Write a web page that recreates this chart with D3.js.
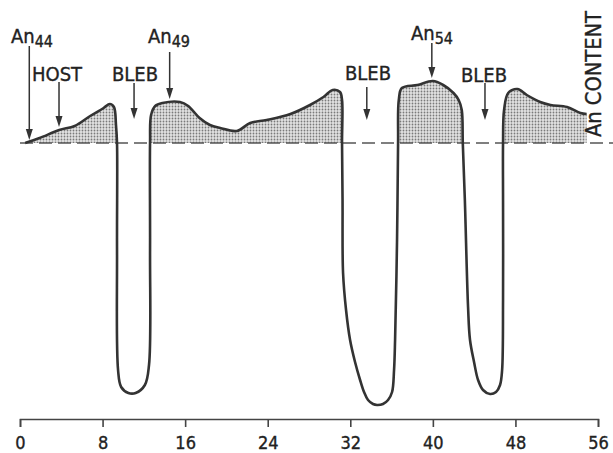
<!DOCTYPE html>
<html>
<head>
<meta charset="utf-8">
<script src="https://cdn.jsdelivr.net/npm/d3@7"></script>
<style>
  body { margin: 0; background: #fff; }
  svg { display: block; }
  .lbl { font-family: "Liberation Sans Narrow", "DejaVu Sans Condensed", "Liberation Sans", Arial, sans-serif; fill: #222; stroke: #222; stroke-width: 0.35; }
  .axis text { font-family: "DejaVu Sans Condensed", "Liberation Sans", Arial, sans-serif; font-size: 18px; fill: #222; stroke: #222; stroke-width: 0.35; }
  .axis path, .axis line { stroke: #444; stroke-width: 1.6; }
</style>
</head>
<body>
<div id="chart"></div>
<script>
// distance along traverse (0-56) and relative An content (0 = host baseline)
const distance = [0.5, 1.9, 3.8, 5.3, 6.8, 8.1, 8.7, 9.1, 9.3, 9.4, 9.4, 9.5, 9.8, 10.5, 11.2, 12.1, 12.5, 12.6, 12.6,
  12.7, 13.1, 13.8, 15.5, 16.3, 17.4, 18.4, 19.4, 21.0, 22.3, 23.9, 26.2, 28.1, 29.4, 30.3, 31.0, 31.2, 31.2,
  31.25, 31.3, 31.59, 31.98, 32.46, 32.95, 33.33, 33.72, 34.2, 34.59, 35.17, 35.66, 36.05, 36.24, 36.34, 36.53, 36.63,
  36.7, 37.0, 38.5, 40.0, 41.0, 42.0, 42.5, 42.8, 42.9,
  43.1, 43.41, 43.6, 43.99, 44.38, 44.86, 45.54, 46.12, 46.51, 46.71, 46.8, 46.8, 46.8,
  46.9, 47.3, 48.2, 49.1, 50.4, 51.4, 53.0, 54.3, 54.9];
const anContent = [0, 0.5, 1.3, 1.7, 2.7, 3.5, 3.9, 3.6, 1.8, 0, -10.7, -22.7, -24.4, -25, -25, -24.2, -22.2, -10.7, 0,
  2.8, 3.7, 4.0, 4.1, 3.7, 2.5, 1.8, 1.5, 1.2, 2.0, 2.3, 2.9, 3.8, 4.6, 5.3, 5.1, 4.3, 0,
  -5.7, -13, -16.7, -19.7, -21.9, -23.7, -24.9, -25.7, -26.1, -26.2, -26.1, -25.7, -24.9, -22.7, -19.7, -9.7, 0,
  4.3, 5.5, 5.8, 6.2, 5.8, 5.0, 4.3, 3.3, 0,
  -5.7, -16.4, -19.7, -21.9, -23.7, -24.7, -25.1, -24.9, -24.2, -22.7, -15.7, -5.7, 0,
  3.3, 5.0, 5.4, 4.8, 4.1, 3.8, 3.6, 3.0, 2.9];
const xTicks = [0, 8, 16, 24, 32, 40, 48, 56];

// labels with arrows: name, subscript, arrow distance
const labelText = ["An", "HOST", "BLEB", "An", "BLEB", "An", "BLEB"];
const labelSub = ["44", "", "", "49", "", "54", ""];
const arrowAt = [0.9, 3.78, 11.05, 14.5, 33.6, 39.9, 45.05];

const width = 613, height = 453;
const svg = d3.select("#chart").append("svg")
  .attr("width", width).attr("height", height);

const x = d3.scaleLinear().domain([0, 56]).range([20, 598]);
const y = d3.scaleLinear().domain([-27, 7]).range([413, 73]);

const data = distance.map((d, i) => ({ d: d, v: anContent[i] }));

// stipple pattern for shaded area
const defs = svg.append("defs");
const pat = defs.append("pattern").attr("id", "dots")
  .attr("width", 3).attr("height", 3).attr("patternUnits", "userSpaceOnUse");
pat.append("rect").attr("width", 3).attr("height", 3).attr("fill", "#e2e2e2");
pat.append("circle").attr("cx", 1.5).attr("cy", 1.5).attr("r", 0.9).attr("fill", "#7a7a7a");

defs.append("clipPath").attr("id", "above")
  .append("rect").attr("x", 0).attr("y", 0).attr("width", width).attr("height", y(0));

const curve = d3.curveCatmullRom.alpha(0.5);

svg.append("path")
  .datum(data)
  .attr("clip-path", "url(#above)")
  .attr("fill", "url(#dots)")
  .attr("d", d3.area().x(d => x(d.d)).y0(y(0)).y1(d => y(d.v)).curve(curve));

// dashed host baseline
svg.append("line")
  .attr("x1", x(0)).attr("x2", width)
  .attr("y1", y(0)).attr("y2", y(0))
  .attr("stroke", "#555").attr("stroke-width", 1.6)
  .attr("stroke-dasharray", "13,6");

svg.append("path")
  .datum(data)
  .attr("fill", "none")
  .attr("stroke", "#333")
  .attr("stroke-width", 2.6)
  .attr("stroke-linejoin", "round")
  .attr("d", d3.line().x(d => x(d.d)).y(d => y(d.v)).curve(curve));

// axis
const axis = d3.axisBottom(x).tickValues(xTicks).tickSize(8).tickPadding(9)
  .tickSizeOuter(8).tickFormat(d3.format("d"));
svg.append("g").attr("class", "axis")
  .attr("transform", "translate(0,419)")
  .call(axis);

// annotations
const labelY = [36, 74, 74, 36, 73, 33, 75];
const arrowTop = [46, 82, 83, 52, 87, 43, 83];
const arrowTip = [140, 127, 119, 99, 120, 78, 120];
const labelX = [32, 57, 135, 169, 368, 432, 484];

labelText.forEach((t, i) => {
  const ax = x(arrowAt[i]);
  const g = svg.append("g");
  g.append("line")
    .attr("x1", ax).attr("x2", ax)
    .attr("y1", arrowTop[i]).attr("y2", arrowTip[i] - 8)
    .attr("stroke", "#333").attr("stroke-width", 1.5);
  g.append("path")
    .attr("d", `M${ax - 3.5},${arrowTip[i] - 11} L${ax + 3.5},${arrowTip[i] - 11} L${ax},${arrowTip[i]} Z`)
    .attr("fill", "#333");
  const txt = g.append("text").attr("class", "lbl")
    .attr("x", labelX[i]).attr("y", labelY[i] + 7)
    .attr("text-anchor", "middle")
    .style("font-size", "20px");
  txt.append("tspan").text(t);
  if (labelSub[i]) {
    txt.append("tspan").attr("dy", 4).style("font-size", "16px").text(labelSub[i]);
  }
});

svg.append("text").attr("class", "lbl")
  .attr("transform", "translate(601,74) rotate(-90)")
  .attr("text-anchor", "middle")
  .style("font-size", "21px")
  .attr("textLength", 126)
  .attr("lengthAdjust", "spacingAndGlyphs")
  .text("An CONTENT");
</script>
</body>
</html>
